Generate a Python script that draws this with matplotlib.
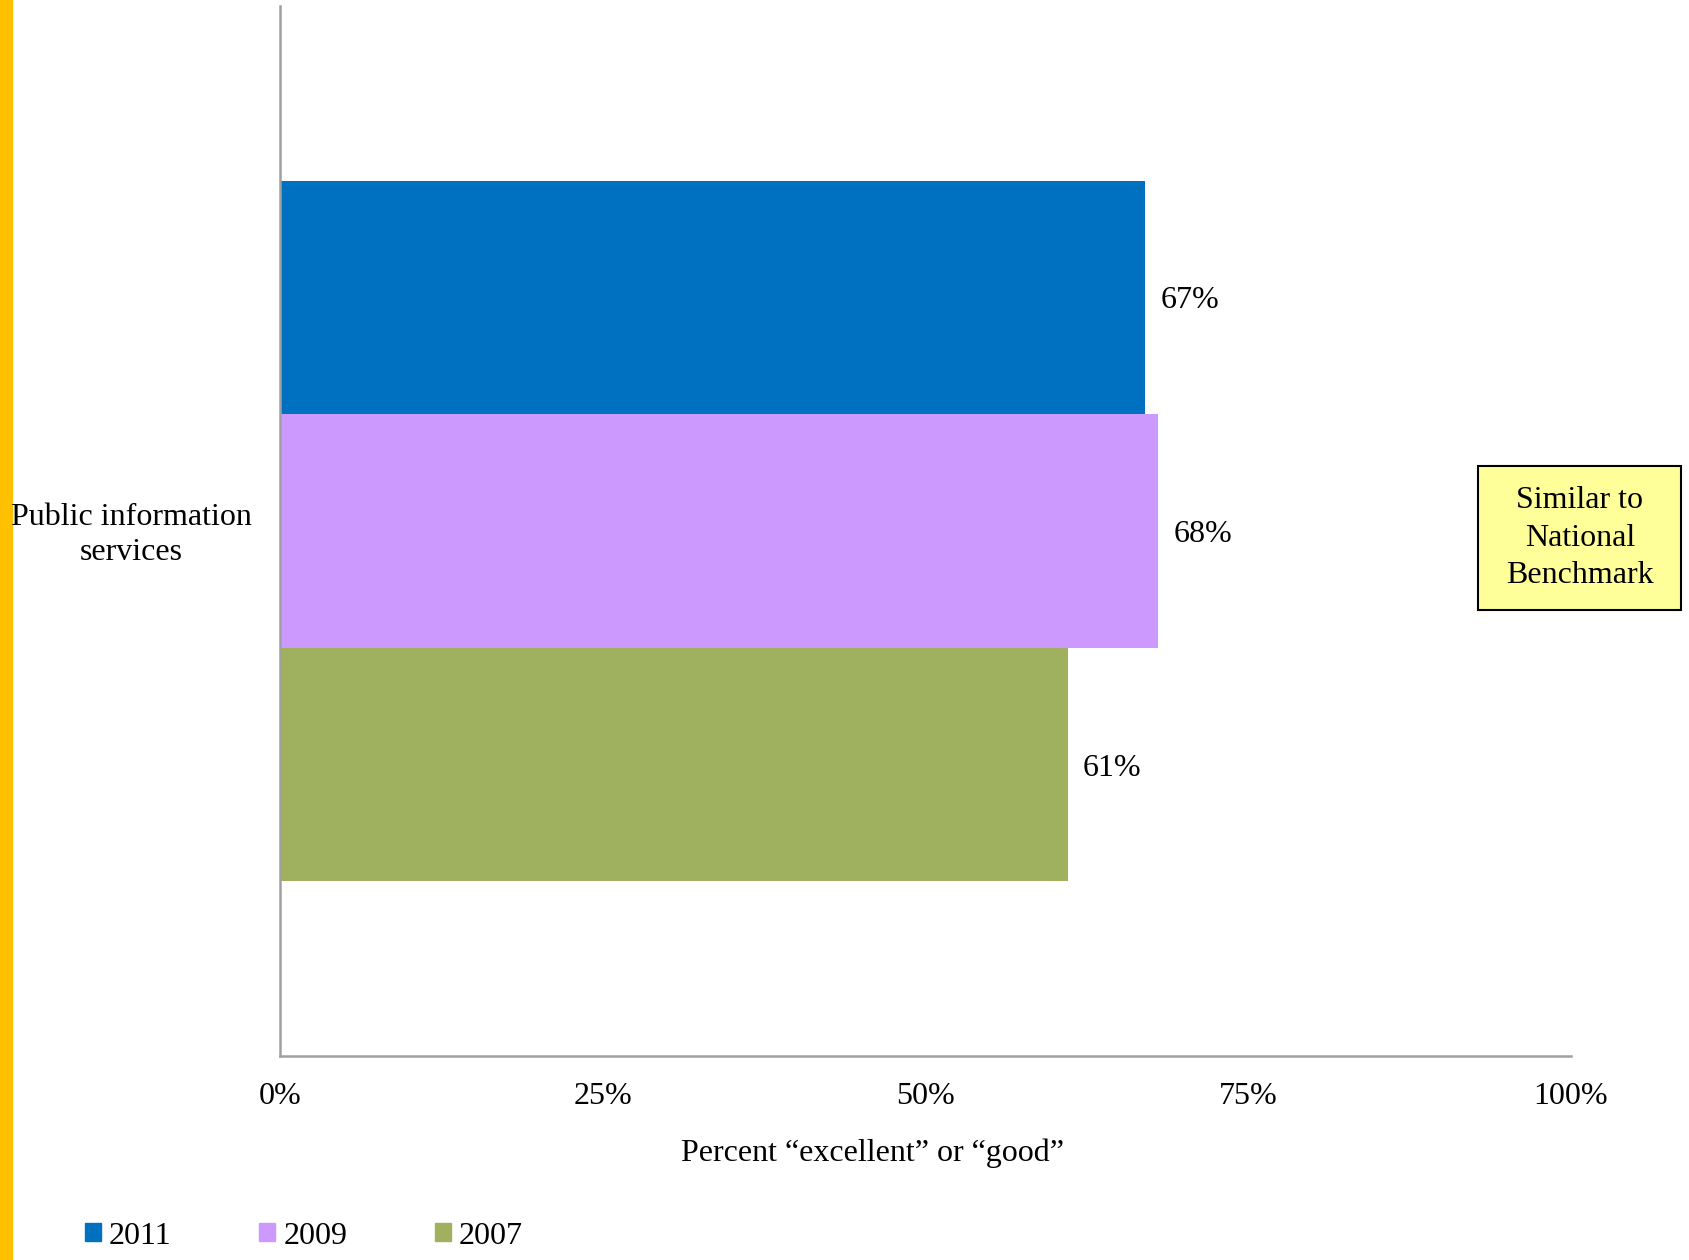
import matplotlib
matplotlib.use("Agg")
import matplotlib.pyplot as plt
import matplotlib.patches as mpatches

# ── Data ──────────────────────────────────────────────────────────────────────
category = "Public information\nservices"
years    = ["2011", "2009", "2007"]
values   = [67, 68, 61]
colors   = ["#0070C0", "#CC99FF", "#9FB15F"]
xticks   = [0, 25, 50, 75, 100]
xticklabels = ["0%", "25%", "50%", "75%", "100%"]

plt.rcParams["font.family"] = ["Liberation Serif", "DejaVu Serif"]
FS = 23

W, H = 1690, 1260
fig = plt.figure(figsize=(W / 100, H / 100), dpi=100)
fig.patch.set_facecolor("white")

# yellow strip on the left edge
fig.patches.append(mpatches.Rectangle((0, 0), 12 / W, 1, transform=fig.transFigure,
                                      color="#FFC000", zorder=0))

ax = fig.add_axes([280 / W, 1 - 1056 / H, 1291 / W, 1050 / H])

bar_h = 0.2225
offsets = [bar_h, 0, -bar_h]
for yr, v, c, off in zip(years, values, colors, offsets):
    ax.barh(off, v, height=bar_h, color=c, label=yr)
    ax.text(v + 1.2, off, f"{v}%", va="center_baseline", ha="left", fontsize=FS)

ax.set_xlim(0, 100)
ax.set_ylim(-0.5, 0.5)
ax.set_xticks(xticks)
ax.set_xticklabels(xticklabels, fontsize=FS)
ax.tick_params(axis="x", length=0, pad=19)
ax.set_yticks([])

for s in ["top", "right"]:
    ax.spines[s].set_visible(False)
for s in ["left", "bottom"]:
    ax.spines[s].set_color("#A0A0A0")
    ax.spines[s].set_linewidth(1.8)

fig.text(131 / W, 1 - 535 / H, category, ha="center", va="center", fontsize=FS,
         linespacing=1.25)

fig.text(873 / W, 1 - 1153 / H, "Percent \u201cexcellent\u201d or \u201cgood\u201d",
         ha="center", va="center", fontsize=FS)

# benchmark note box
fig.patches.append(mpatches.Rectangle((1478 / W, 1 - 610 / H), 203 / W, 144 / H,
                                      transform=fig.transFigure, facecolor="#FFFF99",
                                      edgecolor="black", linewidth=1.5))
fig.text(1580 / W, 1 - 538 / H, "Similar to\nNational\nBenchmark", ha="center",
         va="center", fontsize=FS, linespacing=1.38)

handles = [mpatches.Patch(color=c, label=y) for y, c in zip(years, colors)]
fig.legend(handles=handles, loc="center left", bbox_to_anchor=(56 / W, 1 - 1236 / H),
           ncol=3, frameon=False, fontsize=FS, handlelength=0.5, handleheight=0.5,
           handletextpad=0.25, columnspacing=2.75)

fig.savefig("out.png", dpi=100, facecolor="white")
